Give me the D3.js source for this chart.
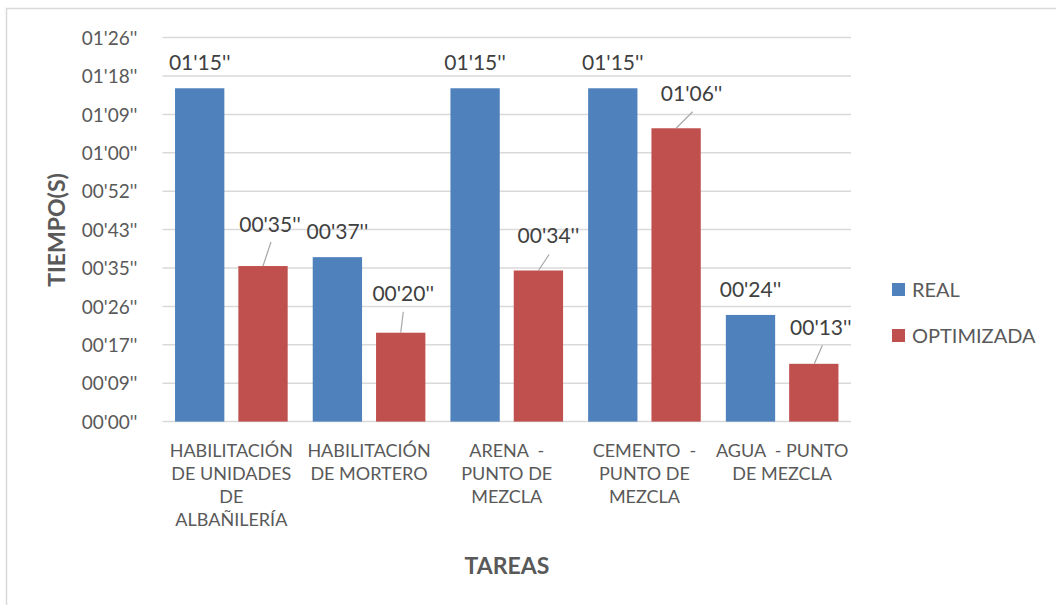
<!DOCTYPE html>
<html>
<head>
<meta charset="utf-8">
<script src="https://cdn.jsdelivr.net/npm/d3@7"></script>
<style>
  html, body { margin: 0; padding: 0; background: #fff; }
  svg { display: block; font-family: Lato, "Open Sans", sans-serif; }
</style>
</head>
<body>
<svg id="chart" width="1056" height="605"></svg>
<script>
// Task names, one entry per wrapped line
const categories = [
  ["HABILITACIÓN", "DE UNIDADES", "DE", "ALBAÑILERÍA"],
  ["HABILITACIÓN", "DE MORTERO"],
  ["ARENA  -", "PUNTO DE", "MEZCLA"],
  ["CEMENTO  -", "PUNTO DE", "MEZCLA"],
  ["AGUA  - PUNTO", "DE MEZCLA"]
];
const seriesNames = ["REAL", "OPTIMIZADA"];
// Times in seconds
const realValues = [75, 37, 75, 75, 24];
const optimizedValues = [35, 20, 34, 66, 13];
// Axis ticks (seconds) and their printed labels
const tickSeconds = [0, 8.64, 17.28, 25.92, 34.56, 43.2, 51.84, 60.48, 69.12, 77.76, 86.4];
const tickLabels = ["00'00''", "00'09''", "00'17''", "00'26''", "00'35''", "00'43''",
                    "00'52''", "01'00''", "01'09''", "01'18''", "01'26''"];

const colors = { REAL: "#4f81bd", OPTIMIZADA: "#c0504d" };
// Callout placement for the optimized labels (offset from bar top centre)
const calloutOffsets = [
  { dx: 7, dy: -41, x0: 0, lx: 8, ly: -24 },
  { dx: 2.5, dy: -39.5, x0: 0, lx: 2.6, ly: -21 },
  { dx: 10, dy: -34.5, x0: 0, lx: 10.7, ly: -16 },
  { dx: 15.5, dy: -34.5, x0: 0, lx: 16.5, ly: -16.5 },
  { dx: 7, dy: -36, x0: 0.5, lx: 8.6, ly: -18.5 }
];

const svg = d3.select("#chart");
const plot = { left: 162.5, right: 851, top: 37.6, bottom: 421.6 };

const fmt = s => {
  const t = Math.round(s);
  const m = Math.floor(t / 60), sec = t % 60;
  return String(m).padStart(2, "0") + "'" + String(sec).padStart(2, "0") + "''";
};

// Outer frame
svg.append("rect")
  .attr("x", 6.5).attr("y", 8.5).attr("width", 1100).attr("height", 700)
  .attr("fill", "#fff").attr("stroke", "#d9d9d9").attr("stroke-width", 1.5);

const y = d3.scaleLinear().domain([0, 86.4]).range([plot.bottom, plot.top]);
const x0 = d3.scaleBand().domain(d3.range(categories.length))
  .range([plot.left, plot.right]).paddingInner(0).paddingOuter(0);
const x1 = d3.scaleBand().domain(seriesNames)
  .range([0, x0.bandwidth()]).paddingInner(0.221).paddingOuter(0.198);

// Gridlines
svg.append("g").selectAll("line").data(tickSeconds).join("line")
  .attr("x1", plot.left).attr("x2", plot.right)
  .attr("y1", d => y(d)).attr("y2", d => y(d))
  .attr("stroke", "#d9d9d9").attr("stroke-width", 1.5);

// Y axis labels
const yAxis = d3.axisLeft(y).tickValues(tickSeconds)
  .tickFormat((d, i) => tickLabels[i]).tickSize(0).tickPadding(0);
const gy = svg.append("g").attr("transform", `translate(${plot.left - 25},0)`).call(yAxis);
gy.select(".domain").remove();
gy.selectAll("text").attr("fill", "#595959").style("font-size", "19px")
  .style("font-family", "Lato, sans-serif").attr("dy", "0.35em");

// Bars
const rows = categories.map((c, i) => ({ i, REAL: realValues[i], OPTIMIZADA: optimizedValues[i] }));
const groups = svg.append("g").selectAll("g").data(rows).join("g")
  .attr("transform", d => `translate(${x0(d.i)},0)`);
groups.selectAll("rect").data(d => seriesNames.map(k => ({ k, v: d[k] }))).join("rect")
  .attr("x", d => x1(d.k)).attr("width", x1.bandwidth())
  .attr("y", d => y(d.v)).attr("height", d => y(0) - y(d.v))
  .attr("fill", d => colors[d.k]);

// Value labels for REAL bars
svg.append("g").selectAll("text").data(realValues).join("text")
  .attr("x", (d, i) => x0(i) + x1("REAL") + x1.bandwidth() / 2)
  .attr("y", d => y(d) - 25.5)
  .attr("dy", "0.35em")
  .attr("text-anchor", "middle").attr("fill", "#404040").style("font-size", "21px")
  .text(fmt);

// Value labels with leader lines for OPTIMIZADA bars
const optG = svg.append("g");
optimizedValues.forEach((v, i) => {
  const cx = x0(i) + x1("OPTIMIZADA") + x1.bandwidth() / 2;
  const top = y(v);
  const o = calloutOffsets[i];
  optG.append("line")
    .attr("x1", cx + o.x0).attr("y1", top)
    .attr("x2", cx + o.lx).attr("y2", top + o.ly)
    .attr("stroke", "#a6a6a6").attr("stroke-width", 1.2);
  optG.append("text")
    .attr("x", cx + o.dx).attr("y", top + o.dy).attr("dy", "0.35em")
    .attr("text-anchor", "middle").attr("fill", "#404040").style("font-size", "21px")
    .text(fmt(v));
});

// Category labels
const catG = svg.append("g");
categories.forEach((lines, i) => {
  const t = catG.append("text")
    .attr("text-anchor", "middle").attr("fill", "#595959").style("font-size", "18px")
    .style("white-space", "pre");
  lines.forEach((ln, j) => {
    t.append("tspan").attr("x", x0(i) + x0.bandwidth() / 2)
      .attr("y", 451 + j * 23).attr("dy", "0.35em").text(ln);
  });
});

// Axis titles
svg.append("text")
  .attr("transform", "translate(57,230) rotate(-90)")
  .attr("text-anchor", "middle").attr("dy", "0.35em")
  .attr("fill", "#595959").style("font-size", "23px").style("font-weight", "bold")
  .text("TIEMPO(S)");
svg.append("text")
  .attr("x", 507).attr("y", 566).attr("dy", "0.35em")
  .attr("text-anchor", "middle").attr("fill", "#595959")
  .style("font-size", "23px").style("font-weight", "bold")
  .text("TAREAS");

// Legend
const legend = svg.append("g").selectAll("g").data(seriesNames).join("g")
  .attr("transform", (d, i) => `translate(892,${283 + i * 46})`);
legend.append("rect").attr("width", 13).attr("height", 13).attr("fill", d => colors[d]);
legend.append("text").attr("x", 20).attr("y", 6.5).attr("dy", "0.35em")
  .attr("fill", "#595959").style("font-size", "20px").text(d => d);
</script>
</body>
</html>
